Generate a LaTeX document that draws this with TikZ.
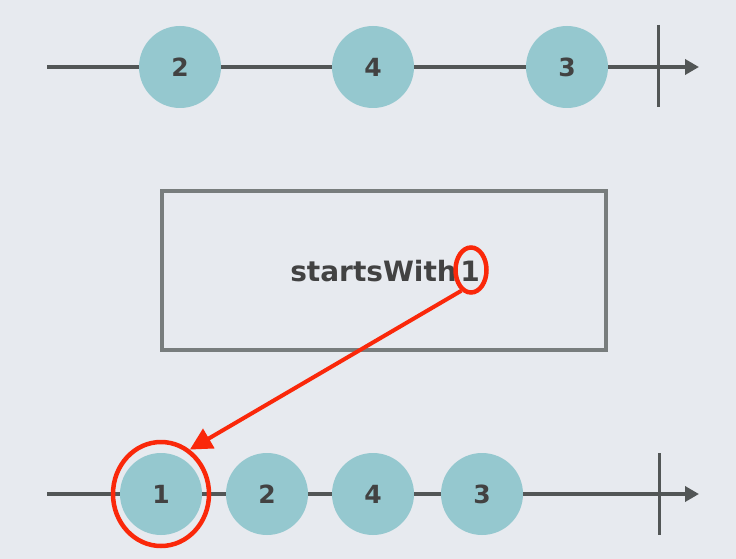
\documentclass[tikz,border=0pt]{standalone}
\usepackage{fontspec}
\setsansfont{DejaVu Sans}
\usetikzlibrary{arrows.meta,positioning,shapes.geometric}
\definecolor{bgcol}{RGB}{231,234,239}
\definecolor{linecol}{RGB}{82,86,86}
\definecolor{marblecol}{RGB}{149,200,207}
\definecolor{boxcol}{RGB}{120,125,125}
\definecolor{txtcol}{RGB}{66,66,66}
\definecolor{hilitecol}{RGB}{250,40,10}

\begin{document}
\begin{tikzpicture}[
  x=1pt,y=-1pt,
  font=\sffamily\bfseries\fontsize{25}{28}\selectfont,
  timeline/.style={draw=linecol,line width=4pt,-{Triangle[length=14pt,width=15pt]}},
  endtick/.style={draw=linecol,line width=3pt},
  marble/.style={circle,fill=marblecol,minimum size=82pt,inner sep=0pt,text=txtcol},
  opbox/.style={draw=boxcol,line width=4pt,minimum width=444pt,minimum height=159pt},
  oplabel/.style={text=txtcol,inner sep=0pt,font=\sffamily\bfseries\fontsize{28}{30}\selectfont},
  ring/.style={ellipse,draw=hilitecol,line width=4.5pt,inner sep=0pt},
  arr/.style={draw=hilitecol,line width=4pt,-{Triangle[length=22pt,width=22pt]}},
]
\useasboundingbox[fill=bgcol] (0,0) rectangle (736,559);
% input stream
\coordinate (instart) at (47,67);
\coordinate (inend) at (699,67);
\draw[timeline] (instart) -- (inend);
\draw[endtick] (658,25) -- (658,107);
\node[marble] (in2) at (180,67) {2};
\node[marble] (in4) at (373,67) {4};
\node[marble] (in3) at (567,67) {3};
% operator
\node[opbox] (op) at (384,270) {};
\node[oplabel] (oparg) at (470,271) {1};
\node[oplabel,left=3pt of oparg] (opname) {startsWith};
\node[ring,minimum width=31pt,minimum height=45pt] (argring) at (471,270) {};
% output stream
\coordinate (outstart) at (47,494);
\coordinate (outend) at (699,494);
\draw[timeline] (outstart) -- (outend);
\draw[endtick] (659,453) -- (659,535);
\node[marble] (out1) at (161,494) {1};
\node[marble] (out2) at (267,494) {2};
\node[marble] (out4) at (373,494) {4};
\node[marble] (out3) at (482,494) {3};
\node[ring,minimum width=96pt,minimum height=104pt] (outring) at (out1) {};
\draw[arr] (argring.-115) -- (outring.57);
\end{tikzpicture}
\end{document}
